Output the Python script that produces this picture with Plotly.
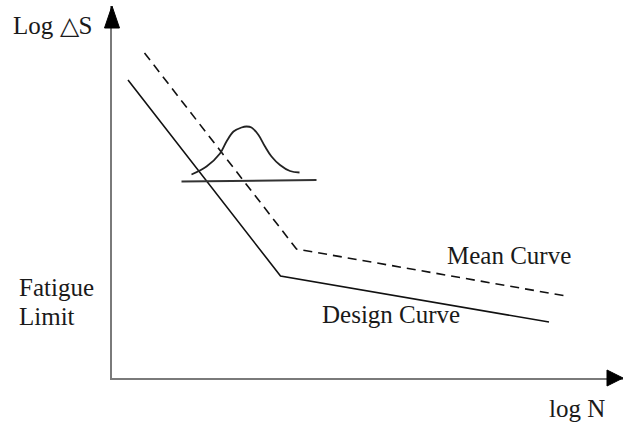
import plotly.graph_objects as go

# S-N diagram (schematic): log stress range vs log cycles
# Units: arbitrary log units along each axis
design_x = [0.32, 3.37, 8.74]
design_y = [5.96, 2.04, 1.12]

mean_x = [0.65, 3.69, 9.08]
mean_y = [6.50, 2.58, 1.64]

# scatter band drawn at one stress level
level_x = [1.39, 4.09]
level_y = [3.93, 3.96]

bell_x = [1.59, 1.89, 2.16, 2.29, 2.43, 2.59, 2.69, 2.79, 2.93, 3.06, 3.19, 3.36, 3.56, 3.75]
bell_y = [4.07, 4.23, 4.49, 4.73, 4.93, 5.01, 5.03, 5.01, 4.86, 4.63, 4.43, 4.26, 4.14, 4.11]

W, H = 623, 424
ML, MB, MT, MR = 112, 46, 6, 0
PX = 50.0  # pixels per axis unit

FONT = "Liberation Serif, Times New Roman, serif"
FS = 25

fig = go.Figure()

fig.add_trace(go.Scatter(x=design_x, y=design_y, mode="lines",
                         line=dict(color="#111111", width=1.6)))
fig.add_trace(go.Scatter(x=mean_x, y=mean_y, mode="lines",
                         line=dict(color="#111111", width=1.6, dash="9px,6px")))
fig.add_trace(go.Scatter(x=level_x, y=level_y, mode="lines",
                         line=dict(color="#333333", width=2)))
fig.add_trace(go.Scatter(x=bell_x, y=bell_y, mode="lines",
                         line=dict(color="#222222", width=1.8, shape="spline", smoothing=1.0)))


def to_paper(px, py):
    return (px - ML) / (W - ML - MR), ((H - MB) - py) / (H - MB - MT)


def tri(points):
    pts = [to_paper(*p) for p in points]
    return "M {} {} L {} {} L {} {} Z".format(*[v for p in pts for v in p])


# arrowheads on both axes
fig.add_shape(type="path", xref="paper", yref="paper",
              path=tri([(112, 6), (104.5, 28), (119.5, 28)]),
              fillcolor="black", line=dict(color="black", width=1))
fig.add_shape(type="path", xref="paper", yref="paper",
              path=tri([(623, 378), (607, 370), (607, 386)]),
              fillcolor="black", line=dict(color="black", width=1))


def label(text, px_left, py_base):
    xp, yp = to_paper(px_left, py_base - 0.3 * FS)
    fig.add_annotation(text=text, x=xp, y=yp,
                       xref="paper", yref="paper", xanchor="left", yanchor="middle",
                       showarrow=False, font=dict(family=FONT, size=FS, color="#1a1a1a"))


label("Log \u25B3S", 11, 33)
label("Fatigue", 17, 295)
label("Limit", 17, 324)
label("Mean Curve", 445, 263)
label("Design Curve", 320, 322)
label("log N", 547, 416)

axis_common = dict(showgrid=False, zeroline=False, showticklabels=False, ticks="",
                   showline=True, linecolor="#7a7a7a", linewidth=1.5, fixedrange=True)

fig.update_layout(
    width=W, height=H,
    margin=dict(l=ML, r=MR, t=MT, b=MB, pad=0),
    paper_bgcolor="white", plot_bgcolor="white",
    showlegend=False,
    xaxis=dict(range=[0, (W - ML - MR) / PX], **axis_common),
    yaxis=dict(range=[0, (H - MB - MT) / PX], **axis_common),
)

fig.write_html("out.html", config={"displayModeBar": False})
